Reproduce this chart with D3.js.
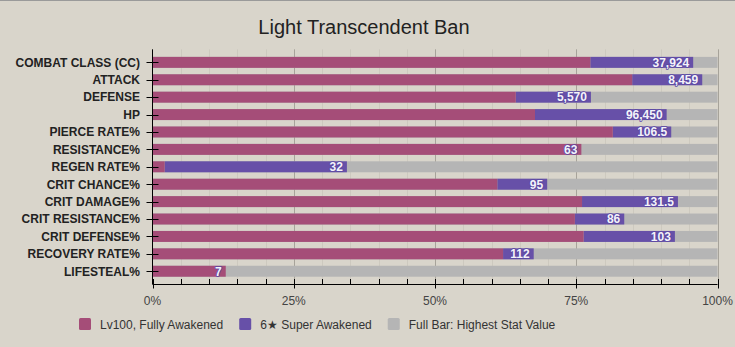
<!DOCTYPE html>
<html>
<head>
<meta charset="utf-8">
<script src="https://cdn.jsdelivr.net/npm/d3@7"></script>
<style>
  html, body { margin: 0; padding: 0; background: #d9d5cb; }
  svg { display: block; font-family: "Liberation Sans", Arial, sans-serif; }
</style>
</head>
<body>
<svg id="chart" width="735" height="347"></svg>
<script>
// Stat categories, top to bottom
const categories = [
  "COMBAT CLASS (CC)", "ATTACK", "DEFENSE", "HP", "PIERCE RATE%",
  "RESISTANCE%", "REGEN RATE%", "CRIT CHANCE%", "CRIT DAMAGE%",
  "CRIT RESISTANCE%", "CRIT DEFENSE%", "RECOVERY RATE%", "LIFESTEAL%"
];
// Lv100 fully awakened stat values
const lv100Values = [30710, 7381, 4615, 71755, 94.5, 63, 2, 83, 107.5, 77, 85, 103, 7];
// 6-star super awakened stat values
const superAwakenedValues = [37924, 8459, 5570, 96450, 106.5, 63, 32, 95, 131.5, 86, 103, 112, 7];
// Highest value of each stat (full bar)
const highestValues = [39630, 8694, 7178, 105990, 116, 83, 93, 136, 141.4, 103, 111.4, 166, 54];
// Axis ticks (fractions of the highest value)
const xTicks = [0, 0.25, 0.5, 0.75, 1];
const seriesNames = ["Lv100, Fully Awakened", "6\u2605 Super Awakened", "Full Bar: Highest Stat Value"];
const seriesColors = ["#a54d78", "#6750a8", "#b5b5b5"];

const rows = categories.map((c, i) => ({
  cat: c,
  lv: lv100Values[i] / highestValues[i],
  sa: superAwakenedValues[i] / highestValues[i],
  saValue: superAwakenedValues[i]
}));

const svg = d3.select("#chart");
const plotLeft = 152.5, plotRight = 717.5, plotTop = 49.3, plotBottom = 284.3;

const x = d3.scaleLinear().domain([0, 1]).range([plotLeft, plotRight]);
const y = d3.scaleBand().domain(categories).range([plotTop, plotBottom])
  .paddingInner(0.37).paddingOuter(0.435);

// top border
svg.append("line").attr("x1", 0).attr("x2", 735).attr("y1", 0.5).attr("y2", 0.5)
  .attr("stroke", "#9a9a9a").attr("stroke-width", 1);

// Title
svg.append("text").attr("x", 364).attr("y", 34).attr("text-anchor", "middle")
  .attr("font-size", 20).attr("fill", "#222").text("Light Transcendent Ban");

// Gridlines: minor every 5%, major every 25%
const minor = d3.range(0, 101, 5).map(d => d / 100).filter(d => Math.round(d * 100) % 25 !== 0);
svg.append("g").selectAll("line").data(minor).join("line")
  .attr("x1", d => Math.round(x(d)) + 0.5).attr("x2", d => Math.round(x(d)) + 0.5)
  .attr("y1", plotTop).attr("y2", plotBottom)
  .attr("stroke", "#cdc9bf").attr("stroke-width", 1);
svg.append("g").selectAll("line").data(xTicks.slice(1)).join("line")
  .attr("x1", d => Math.round(x(d)) + 0.5).attr("x2", d => Math.round(x(d)) + 0.5)
  .attr("y1", plotTop).attr("y2", plotBottom)
  .attr("stroke", "#a7a39a").attr("stroke-width", 1);

// Bars
const bars = svg.append("g");
bars.selectAll("rect.full").data(rows).join("rect").attr("class", "full")
  .attr("x", x(0)).attr("width", x(1) - x(0))
  .attr("y", d => y(d.cat)).attr("height", y.bandwidth())
  .attr("fill", seriesColors[2]);
bars.selectAll("rect.sa").data(rows).join("rect").attr("class", "sa")
  .attr("x", d => x(d.lv)).attr("width", d => Math.max(0, x(d.sa) - x(d.lv)))
  .attr("y", d => y(d.cat)).attr("height", y.bandwidth())
  .attr("fill", seriesColors[1]);
bars.selectAll("rect.lv").data(rows).join("rect").attr("class", "lv")
  .attr("x", x(0)).attr("width", d => x(d.lv) - x(0))
  .attr("y", d => y(d.cat)).attr("height", y.bandwidth())
  .attr("fill", seriesColors[0]);

// Value labels at the end of the super awakened bar
const fmt = d3.format(",");
svg.append("g").selectAll("text").data(rows).join("text")
  .attr("x", d => x(d.sa) - 4)
  .attr("y", d => y(d.cat) + y.bandwidth() / 2)
  .attr("dy", "0.36em")
  .attr("text-anchor", "end")
  .attr("font-size", 12).attr("font-weight", "bold")
  .attr("fill", "#f4f2fa")
  .attr("stroke", "#5a48a3").attr("stroke-width", 1.6)
  .attr("stroke-linejoin", "round")
  .attr("paint-order", "stroke")
  .text(d => fmt(d.saValue));

// Y axis
const yAxis = svg.append("g");
yAxis.append("line").attr("x1", plotLeft).attr("x2", plotLeft).attr("y1", plotTop).attr("y2", plotBottom)
  .attr("stroke", "#000");
yAxis.selectAll("line.tick").data(categories).join("line").attr("class", "tick")
  .attr("x1", plotLeft - 6).attr("x2", plotLeft + 6)
  .attr("y1", d => Math.round(y(d) + y.bandwidth() / 2) + 0.5)
  .attr("y2", d => Math.round(y(d) + y.bandwidth() / 2) + 0.5)
  .attr("stroke", "#000");
yAxis.selectAll("text").data(categories).join("text")
  .attr("x", 140).attr("y", d => y(d) + y.bandwidth() / 2).attr("dy", "0.36em")
  .attr("text-anchor", "end").attr("font-size", 12).attr("font-weight", "bold")
  .attr("fill", "#222").text(d => d);

// X axis
const xAxis = svg.append("g");
const axisY = Math.round(plotBottom) + 0.5;
xAxis.append("line").attr("x1", plotLeft).attr("x2", plotRight).attr("y1", axisY).attr("y2", axisY)
  .attr("stroke", "#000");
xAxis.selectAll("line.minor").data(minor).join("line").attr("class", "minor")
  .attr("x1", d => Math.round(x(d)) + 0.5).attr("x2", d => Math.round(x(d)) + 0.5)
  .attr("y1", axisY - 5.5).attr("y2", axisY)
  .attr("stroke", "#000");
xAxis.selectAll("line.major").data(xTicks).join("line").attr("class", "major")
  .attr("x1", d => Math.round(x(d)) + 0.5).attr("x2", d => Math.round(x(d)) + 0.5)
  .attr("y1", axisY - 5.5).attr("y2", axisY + 4)
  .attr("stroke", "#000");
xAxis.selectAll("text").data(xTicks).join("text")
  .attr("x", d => x(d)).attr("y", 305).attr("text-anchor", "middle")
  .attr("font-size", 12).attr("fill", "#444")
  .text(d3.format(".0%"));

// Legend
const legend = svg.append("g");
let lx = 79;
seriesNames.forEach((name, i) => {
  legend.append("rect").attr("x", lx).attr("y", 318).attr("width", 12).attr("height", 12)
    .attr("rx", 1.5).attr("fill", seriesColors[i]);
  const t = legend.append("text").attr("x", lx + 21).attr("y", 328.5)
    .attr("font-size", 12).attr("fill", "#333").text(name);
  lx += 21 + t.node().getComputedTextLength() + 16;
});
</script>
</body>
</html>
